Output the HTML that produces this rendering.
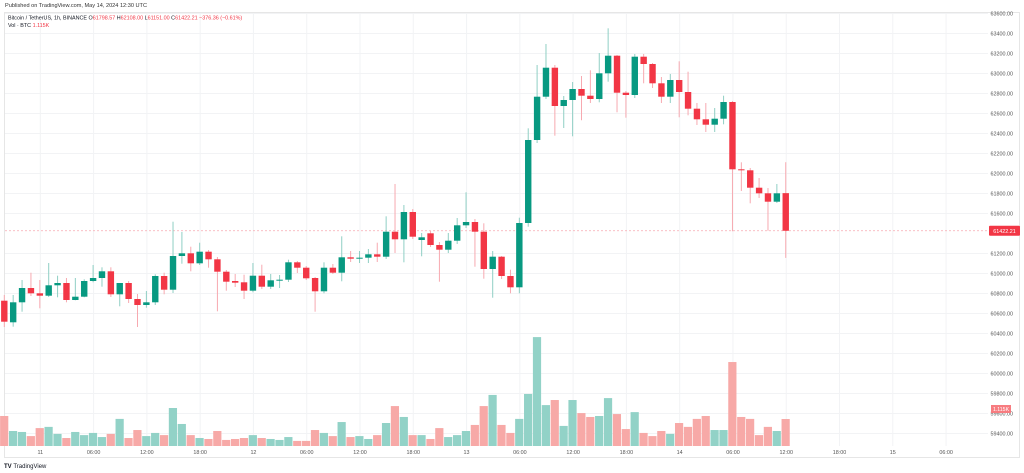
<!DOCTYPE html>
<html><head><meta charset="utf-8">
<style>
html,body{margin:0;padding:0;background:#fff;}
body{width:1024px;height:473px;overflow:hidden;position:relative;font-family:"Liberation Sans",sans-serif;}
svg{position:absolute;left:0;top:0;}
</style></head>
<body>
<svg id="chart" width="1024" height="473" viewBox="0 0 1024 473">
  <text x="5" y="7" font-size="5.6" fill="#333">Published on TradingView.com, May 14, 2024 12:30 UTC</text>
  <rect x="4.5" y="12.5" width="1015" height="445" fill="none" stroke="#e6e6e6" stroke-width="1"/>
  <g id="grid"></g>
  <g id="vol"></g>
  <g id="candles"></g>
  <g id="yaxis"></g>
  <g id="xaxis"></g>
  <text x="8" y="19.5" font-size="5.4" fill="#131722">Bitcoin / TetherUS, 1h, BINANCE <tspan fill="#131722">O</tspan><tspan fill="#f23645">61798.57</tspan> <tspan>H</tspan><tspan fill="#f23645">62108.00</tspan> <tspan>L</tspan><tspan fill="#f23645">61151.00</tspan> <tspan>C</tspan><tspan fill="#f23645">61422.21 −376.36 (−0.61%)</tspan></text>
  <text x="8" y="27" font-size="5.4" fill="#131722">Vol · BTC <tspan fill="#f23645">1.115K</tspan></text>
  <text x="4" y="468" font-size="6" font-weight="bold" fill="#131722">TV <tspan font-weight="normal">TradingView</tspan></text>
</svg>
<script>
const opens=[60723,60507,60707,60850,60797,60773,60877,60900,60730,60763,60920,60950,61017,60787,60900,60740,60680,60707,60970,60833,61170,61197,61097,61213,61137,61013,60920,60907,60823,60973,60863,60927,60933,61107,61053,60950,60817,61053,61003,61157,61143,61153,61187,61163,61413,61337,61610,61330,61397,61280,61233,61323,61477,61510,61413,61040,61163,60970,60857,61500,62330,62763,63053,62670,62730,62840,62773,62740,62997,63173,62803,62780,63163,63090,62897,62763,62930,62810,62643,62537,62483,62543,62710,62037,62027,61853,61797,61713,61798.57];
const closes=[60513,60707,60850,60797,60773,60877,60900,60730,60763,60920,60950,61017,60787,60900,60740,60680,60707,60970,60833,61170,61197,61097,61213,61137,61013,60913,60903,60823,60973,60863,60927,60933,61107,61053,60947,60817,61053,61003,61157,61143,61153,61187,61163,61413,61337,61610,61363,61357,61280,61233,61323,61477,61510,61413,61040,61163,60970,60857,61500,62330,62763,63053,62670,62730,62840,62773,62740,62997,63173,62803,62780,63163,63090,62897,62763,62930,62810,62643,62537,62483,62543,62710,62037,62027,61853,61797,61713,61797,61422.21];
const highs=[60780,60780,60930,61003,60930,61100,60973,60950,60950,60937,61080,61057,61057,60900,60920,60790,60820,60987,61003,61513,61410,61263,61303,61230,61160,61030,60990,60983,61100,61083,60990,60980,61133,61120,61070,60960,61107,61090,61367,61220,61220,61240,61303,61567,61890,61680,61640,61400,61420,61310,61400,61550,61807,61540,61497,61220,61170,61033,61553,62447,63080,63290,63080,62770,62910,62970,63027,63200,63447,63180,62820,63190,63190,63100,62960,62990,63117,63013,62700,62700,62650,62773,62720,62107,62050,61950,61850,61890,62108];
const lows=[60460,60463,60613,60770,60647,60760,60757,60707,60727,60757,60907,60863,60760,60667,60700,60460,60653,60680,60787,60800,61093,61017,61080,61053,60617,60823,60860,60740,60807,60840,60840,60850,60910,61000,60930,60613,60797,60990,60917,61110,61100,61100,61110,61140,61200,61107,61340,61167,61260,60913,61200,61290,61450,61063,60943,60753,60940,60797,60797,61463,62300,62740,62373,62450,62367,62527,62700,62707,62913,62607,62553,62750,62897,62850,62700,62700,62557,62577,62480,62410,62410,62487,61417,61820,61697,61750,61423,61700,61151];
const volumes=[1.24,0.62,0.58,0.41,0.74,0.79,0.50,0.33,0.58,0.45,0.54,0.37,0.50,1.12,0.33,0.66,0.41,0.54,0.45,1.57,0.91,0.45,0.33,0.29,0.62,0.25,0.29,0.33,0.45,0.33,0.29,0.25,0.37,0.21,0.21,0.66,0.54,0.41,0.99,0.37,0.41,0.29,0.45,0.95,1.65,1.20,0.45,0.45,0.29,0.74,0.37,0.45,0.62,0.87,1.65,2.11,0.87,0.54,1.12,2.15,4.50,1.69,1.90,0.83,1.90,1.36,1.20,1.24,1.98,1.32,0.70,1.40,0.54,0.41,0.62,0.50,0.95,0.79,1.12,1.24,0.66,0.66,3.47,1.20,1.12,0.45,0.79,0.62,1.115];
const priceTicks=[63600,63400,63200,63000,62800,62600,62400,62200,62000,61800,61600,61200,61000,60800,60600,60400,60200,60000,59800,59600,59400];
const timeLabels=["11","06:00","12:00","18:00","12","06:00","12:00","18:00","13","06:00","12:00","18:00","14","06:00","12:00","18:00","15","06:00"];
const lastPrice=61422.21;
const lastVolLabel="1.115K";

const NS="http://www.w3.org/2000/svg";
function yP(p){return 13+(63600-p)/10;}
const X0=4.3, DX=8.88;
function xI(i){return X0+i*DX;}
function xHour(h){return X0+(h+4)*DX;} // first candle = 20:00 on 10th
const VBASE=446, VSCALE=24.2;
function yV(v){return VBASE-v*VSCALE;}
function mk(tag,attrs,parent){const e=document.createElementNS(NS,tag);for(const k in attrs)e.setAttribute(k,attrs[k]);parent.appendChild(e);return e;}

const grid=document.getElementById('grid'),vol=document.getElementById('vol'),cg=document.getElementById('candles'),ya=document.getElementById('yaxis'),xa=document.getElementById('xaxis');
priceTicks.forEach(p=>{
  const y=yP(p)+0.5;
  const l=mk('line',{x1:5,x2:988,y1:y,y2:y,stroke:'#f2f3f5','stroke-width':1},grid);
  
  
  const t=mk('text',{x:1013,y:y+2,'font-size':5.4,fill:'#555','text-anchor':'end'},ya);
  t.textContent=p.toFixed(2);
  
  
});
timeLabels.forEach((lab,k)=>{
  const x=xHour(k*6)+0.5;
  const l=mk('line',{x1:x,x2:x,y1:13,y2:446,stroke:'#f2f3f5','stroke-width':1},grid);
  
  
  const t=mk('text',{x:x,y:454,'font-size':5.4,fill:'#555','text-anchor':'middle'},xa);
  t.textContent=lab;
  
  
});
volumes.forEach((v,i)=>{
  const up=closes[i]>=opens[i];
  const r=mk('rect',{x:xI(i)-4.2,y:yV(v),width:8.2,height:v*VSCALE,fill:up?'#92d2c7':'#f7a9a7'},vol);
  
  
});
const ly=yP(lastPrice);
const dl=mk('line',{x1:5,x2:988,y1:ly,y2:ly,stroke:'#f7a9b0','stroke-width':0.8,'stroke-dasharray':'2,2'},grid);


opens.forEach((o,i)=>{
  const c=closes[i],up=c>=o,col=up?'#089981':'#f23645',wc=up?'#8fcfc4':'#f7a9b0',x=xI(i);
  const w=mk('line',{x1:x,x2:x,y1:yP(highs[i]),y2:yP(lows[i]),stroke:wc,'stroke-width':1},cg);
  
  
  const top=yP(Math.max(o,c)),h=Math.max(1,Math.abs(yP(o)-yP(c)));
  const b=mk('rect',{x:x-3.2,y:top,width:6.4,height:h,fill:col},cg);
  
  
});
const pb=mk('rect',{x:989,y:ly-5,width:31,height:10,fill:'#f23645',rx:1},ya);


const pt=mk('text',{x:1004.5,y:ly+2,'font-size':5.4,fill:'#fff','text-anchor':'middle'},ya);
pt.textContent=lastPrice.toFixed(2);


const vy=409;
const vb=mk('rect',{x:991,y:vy-4,width:20,height:8,fill:'#f77c80'},ya);


const vt=mk('text',{x:1001,y:vy+2,'font-size':5.2,fill:'#fff','text-anchor':'middle'},ya);
vt.textContent=lastVolLabel;


</script>
</body></html>
